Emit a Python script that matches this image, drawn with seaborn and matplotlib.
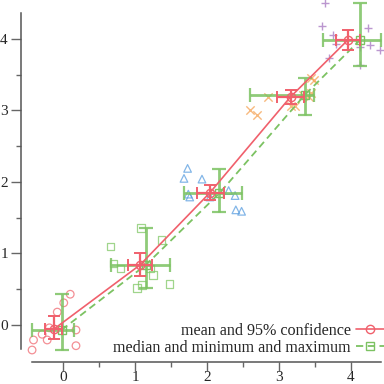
import numpy as np
import pandas as pd
import matplotlib
matplotlib.use('Agg')
import matplotlib.pyplot as plt
import seaborn as sns

# raw samples, one small list per group
g0_x = [0.10, 0.01, -0.08, -0.19, -0.29, -0.41, -0.22, -0.43, 0.18, 0.18]
g0_y = [0.43, 0.31, 0.18, -0.04, -0.13, -0.21, -0.21, -0.35, -0.07, -0.29]
g1_x = [1.08, 0.66, 1.37, 0.70, 0.80, 1.21, 1.25, 1.48, 1.10, 1.03]
g1_y = [1.36, 1.10, 1.19, 0.86, 0.79, 0.79, 0.70, 0.57, 0.56, 0.52]
g2_x = [1.73, 1.68, 1.93, 1.74, 1.76, 2.04, 2.30, 2.39, 2.40, 2.48]
g2_y = [2.19, 2.05, 2.04, 1.83, 1.79, 1.79, 1.88, 1.81, 1.61, 1.59]
g3_x = [2.60, 2.69, 2.85, 3.16, 3.22, 3.33, 3.41, 3.45, 3.44, 3.49]
g3_y = [3.01, 2.94, 3.19, 3.06, 3.06, 3.22, 3.19, 3.25, 3.46, 3.43]
g4_x = [3.64, 3.59, 3.75, 3.79, 3.70, 4.23, 4.13, 4.26, 4.40, 4.13]
g4_y = [4.50, 4.18, 4.06, 3.93, 3.74, 4.16, 3.89, 3.92, 3.84, 3.64]

# summaries per group
mean_x = [-0.13, 1.07, 2.04, 3.16, 3.96]
mean_y = [-0.06, 0.84, 1.85, 3.19, 3.99]
ci_x_lo = [-0.25, 0.90, 1.86, 2.97, 3.79]
ci_x_hi = [-0.01, 1.24, 2.23, 3.34, 4.13]
ci_y_lo = [-0.20, 0.68, 1.75, 3.09, 3.84]
ci_y_hi = [0.13, 1.01, 1.96, 3.29, 4.13]
med_x = [-0.02, 1.15, 2.17, 3.36, 4.13]
med_y = [-0.07, 0.84, 1.84, 3.22, 3.99]
min_x = [-0.43, 0.66, 1.68, 2.60, 3.61]
max_x = [0.15, 1.49, 2.48, 3.49, 4.41]
min_y = [-0.35, 0.52, 1.58, 2.94, 3.62]
max_y = [0.43, 1.36, 2.18, 3.46, 4.50]

labels = ['mean and 95% confidence', 'median and minimum and maximum']

red = '#f0606c'
green = '#7cc262'
pt_colors = ['#f06a72', '#80c866', '#5a9ee0', '#f5a254', '#a574c0']
pt_markers = ['o', 's', '^', 'x', '+']

sns.set_style('white')
plt.rcParams['font.family'] = ['Liberation Serif', 'DejaVu Serif']

fig = plt.figure(figsize=(3.84, 3.84), dpi=100)
ax = fig.add_axes([32 / 384, 35 / 384, 352 / 384, 349 / 384])

groups = [(g0_x, g0_y), (g1_x, g1_y), (g2_x, g2_y), (g3_x, g3_y), (g4_x, g4_y)]
for (gx, gy), c, m in zip(groups, pt_colors, pt_markers):
    if m in ('x', '+'):
        sns.scatterplot(x=gx, y=gy, marker=m, s=36, color=c, linewidth=1.0,
                        alpha=0.75, clip_on=False, ax=ax, legend=False, zorder=2)
    else:
        sns.scatterplot(x=gx, y=gy, marker=m, s=30, facecolor='none', edgecolor=c,
                        linewidth=0.9, alpha=0.75, clip_on=False, ax=ax, legend=False, zorder=2)

mx = np.array(mean_x); my = np.array(mean_y)
dx = np.array(med_x); dy = np.array(med_y)

# median with min / max
ax.errorbar(dx, dy, xerr=[dx - np.array(min_x), np.array(max_x) - dx],
            yerr=[dy - np.array(min_y), np.array(max_y) - dy],
            fmt='none', ecolor=green, elinewidth=2.0, capsize=5, capthick=1.6,
            alpha=0.85, zorder=3, clip_on=False)
sns.lineplot(x=med_x, y=med_y, sort=False, color=green, lw=1.3, linestyle=(0, (4, 2.5)),
             marker='s', ms=6, mfc='none', mec=green, mew=1.0, label=labels[1],
             ax=ax, zorder=3)

# mean with confidence interval
ax.errorbar(mx, my, xerr=[mx - np.array(ci_x_lo), np.array(ci_x_hi) - mx],
            yerr=[my - np.array(ci_y_lo), np.array(ci_y_hi) - my],
            fmt='none', ecolor=red, elinewidth=1.6, capsize=4, capthick=1.4,
            zorder=4)
sns.lineplot(x=mean_x, y=mean_y, sort=False, color=red, lw=1.2,
             marker='o', ms=6, mfc='none', mec=red, mew=1.0, label=labels[0],
             ax=ax, zorder=4)

ax.set_xlim(-0.431, 4.458)
ax.set_ylim(-0.336, 4.545)
ax.set_xticks([0, 1, 2, 3, 4])
ax.set_yticks([0, 1, 2, 3, 4])
ax.set_xticks([0.5, 1.5, 2.5, 3.5], minor=True)
ax.set_yticks([0.5, 1.5, 2.5, 3.5], minor=True)

for s in ['top', 'right']:
    ax.spines[s].set_visible(False)
ax.spines['left'].set_position(('outward', 7.9))
ax.spines['left'].set_bounds(-0.336, 4.36)
ax.spines['bottom'].set_position(('outward', 9.0))
ax.spines['bottom'].set_bounds(-0.43, 4.42)
for s in ['left', 'bottom']:
    ax.spines[s].set_color('#555555')
    ax.spines[s].set_linewidth(1.1)

ax.tick_params(axis='y', which='major', direction='out', length=7.5, width=1.0,
               color='#666666', labelsize=11, pad=2, left=True)
ax.tick_params(axis='x', which='major', direction='out', length=6.5, width=1.0,
               color='#666666', labelsize=11, pad=0.5, bottom=True)
ax.tick_params(which='minor', direction='out', length=3.5, width=1.0, color='#666666',
               left=True, bottom=True)

handles, labs = ax.get_legend_handles_labels()
order = [labs.index(labels[0]), labs.index(labels[1])]
ax.legend([handles[i] for i in order], [labs[i] for i in order],
          loc='lower right', bbox_to_anchor=(1.0, 0.074), bbox_transform=fig.transFigure,
          frameon=False, markerfirst=False, fontsize=11.6, borderpad=0, borderaxespad=0,
          handlelength=1.75, handletextpad=0.3, labelspacing=0.05)

fig.savefig('out.png', dpi=100)
